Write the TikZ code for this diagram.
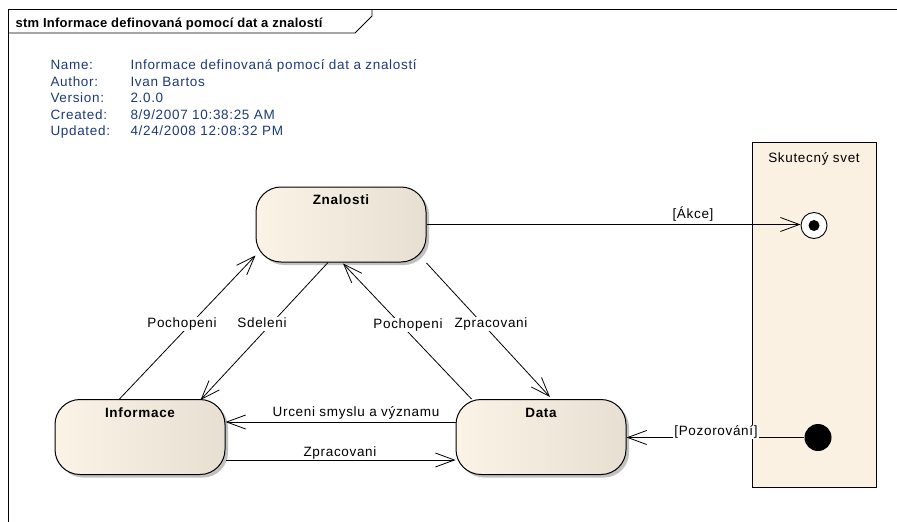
\documentclass[tikz,border=0pt]{standalone}
\usepackage{fontspec}
\setmainfont{Liberation Sans}[LetterSpace=5]
\usetikzlibrary{arrows.meta,calc,shadows}

\definecolor{stateL}{RGB}{251,243,230}
\definecolor{stateR}{RGB}{231,223,210}
\definecolor{worldbg}{RGB}{251,241,226}
\definecolor{infoblue}{RGB}{28,58,120}

\tikzset{
  every node/.style={font=\fontsize{13.5}{16}\selectfont},
  statebox/.style={rectangle, rounded corners=25pt, minimum width=170pt,
    minimum height=75pt, draw=black, line width=1pt,
    left color=stateL, right color=stateR,
    drop shadow={shadow xshift=3pt, shadow yshift=-3pt, fill=black!35, opacity=0.7}},
  statetitle/.style={anchor=base, font=\fontsize{13.5}{16}\selectfont\bfseries},
  conn/.style={line width=0.8pt, -{Straight Barb[length=19pt,width=14pt]}},
  elabel/.style={fill=white, inner sep=1pt, text height=9.5pt, text depth=2.5pt},
  infolabel/.style={anchor=base west, text=infoblue},
  frameline/.style={line width=1.3pt, black},
}

\begin{document}
\begin{tikzpicture}[x=1pt, y=-1pt]
  \useasboundingbox (0,0) rectangle (897,522);

  % diagram frame and its name tab
  \draw[frameline] (8.5,522) -- (8.5,9.5) -- (897,9.5);
  \draw[line width=0.8pt] (8.5,33) -- (355,33) -- (372,16) -- (372,9.5);
  \node[anchor=base west, font=\fontsize{13}{16}\selectfont\bfseries\addfontfeatures{LetterSpace=2}] (title) at (12,27.5)
    {stm Informace definovaná pomocí dat a znalostí};

  % document properties
  \node[infolabel] (k1) at (47,69.5)  {Name:};
  \node[infolabel] (k2) at (47,86)    {Author:};
  \node[infolabel] (k3) at (47,102.5) {Version:};
  \node[infolabel] (k4) at (47,119)   {Created:};
  \node[infolabel] (k5) at (47,135.5) {Updated:};
  \node[infolabel] (v1) at (127,69.5)  {Informace definovaná pomocí dat a znalostí};
  \node[infolabel] (v2) at (127,86)    {Ivan Bartos};
  \node[infolabel] (v3) at (127,102.5) {2.0.0};
  \node[infolabel] (v4) at (127,119)   {8/9/2007 10:38:25 AM};
  \node[infolabel] (v5) at (127,135.5) {4/24/2008 12:08:32 PM};

  % the real-world partition
  \node[draw=black, line width=0.9pt, fill=worldbg, minimum width=124pt,
        minimum height=345pt, anchor=north west, inner sep=0] (world) at (752,142) {};
  \node[anchor=base] (worldname) at (814,162) {Skutecný svet};

  % final and initial pseudo-states
  \node[circle, draw=black, line width=0.9pt, fill=white, minimum size=26pt, inner sep=0] (fin) at (814,225.5) {};
  \node[circle, fill=black, minimum size=11pt, inner sep=0] (findot) at (fin.center) {};
  \node[circle, fill=black, minimum size=27pt, inner sep=0] (ini) at (818,437.5) {};

  % states
  \node[statebox, label={[statetitle, yshift=-18pt]north:Znalosti}] (zn) at (341,224.5) {};
  \node[statebox, label={[statetitle, yshift=-18pt]north:Informace}] (inf) at (140,437) {};
  \node[statebox, label={[statetitle, yshift=-18pt]north:Data}] (dat) at (541,437) {};

  % transitions
  \draw[conn] ([xshift=65pt]inf.north west) -- ([yshift=7pt]zn.south west);
  \draw[conn] ([xshift=-13pt]zn.south) -- ([xshift=-25pt, yshift=-1pt]inf.north east);
  \draw[conn] ([xshift=16pt]dat.north west) -- ([xshift=2pt, yshift=-1pt]zn.south);
  \draw[conn] ([yshift=-0.5pt]zn.south east) -- ([xshift=9pt, yshift=2pt]dat.north);
  \draw[conn] ([yshift=15pt]dat.west) -- ([yshift=15pt]inf.east);
  \draw[conn] ([yshift=-23pt]inf.east) -- ([yshift=-23pt]dat.east -| dat.west);
  \draw[conn] (zn.east) -- (zn.east -| fin.west);
  \draw[conn] (ini.west) -- (ini.west -| dat.east);

  % transition labels
  \node[elabel] (l1) at (182,323.5) {Pochopeni};
  \node[elabel] (l2) at (262,323.5) {Sdeleni};
  \node[elabel] (l3) at (408,324.5) {Pochopeni};
  \node[elabel] (l4) at (491,323.5) {Zpracovani};
  \node[elabel] (l5) at (356,412.5) {Urceni smyslu a významu};
  \node[elabel] (l6) at (340,452.5) {Zpracovani};
  \node[elabel] (l7) at (693,214.5) {[Ákce]};
  \node[elabel] (l8) at (716,431.5) {[Pozorování]};
\end{tikzpicture}
\end{document}
